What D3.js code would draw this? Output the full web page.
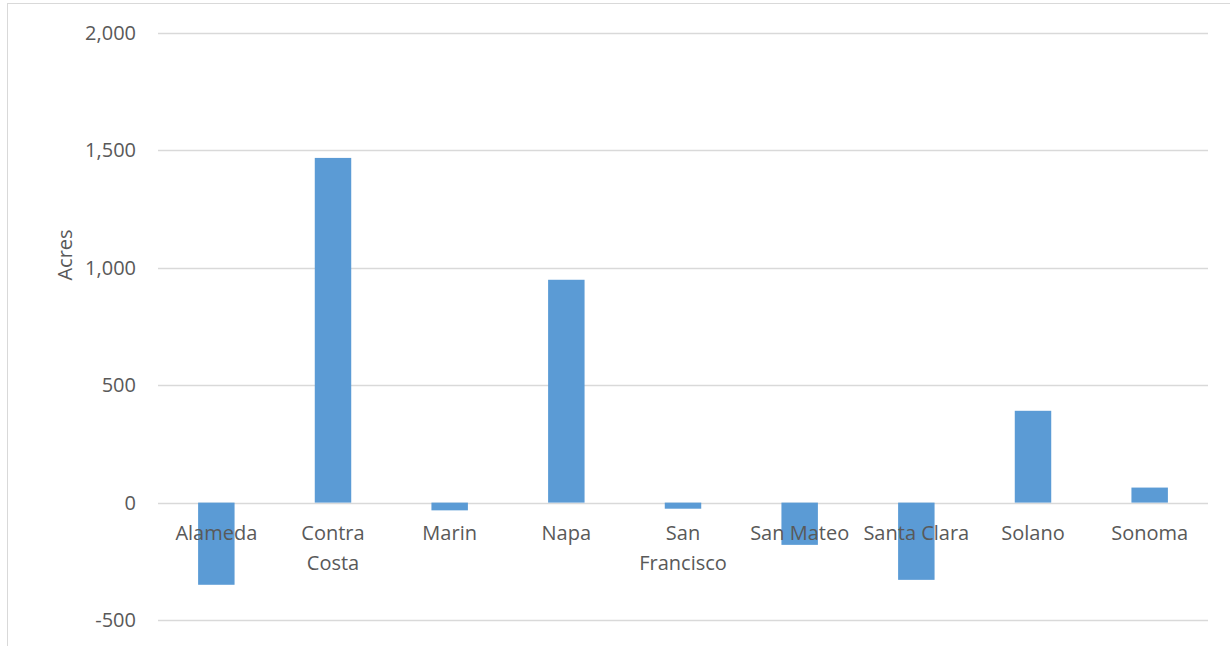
<!DOCTYPE html>
<html><head><meta charset="utf-8">
<script src="https://cdn.jsdelivr.net/npm/d3@7"></script>
<style>body{margin:0;background:#fff;}svg{display:block;}text{font-family:"Open Sans",sans-serif;fill:#595959;}</style>
</head><body><svg id="c" width="1230" height="646"></svg>
<script>
const categories = ["Alameda","Contra Costa","Marin","Napa","San Francisco","San Mateo","Santa Clara","Solano","Sonoma"];
const categoryLines = [["Alameda"],["Contra","Costa"],["Marin"],["Napa"],["San","Francisco"],["San Mateo"],["Santa Clara"],["Solano"],["Sonoma"]];
const values = [-350, 1468, -33, 949, -26, -180, -329, 391, 64];
const yTicks = [-500, 0, 500, 1000, 1500, 2000];
const yTitle = "Acres";

(function(){
const svg = d3.select("#c");
const pl = 158, pr = 1208, pt = 33, pb = 620;
const fs = "20px";
svg.append("rect").attr("x",7.5).attr("y",3.5).attr("width",1230).attr("height",660).attr("fill","none").attr("stroke","#d9d9d9");

const x = d3.scaleBand().domain(categories).range([pl,pr]).paddingInner(0.6875).paddingOuter(0.34375);
const y = d3.scaleLinear().domain([-500,2000]).range([pb,pt]);

const grid = svg.append("g");
yTicks.forEach(t=>{
  grid.append("line").attr("x1",pl).attr("x2",pr).attr("y1",Math.round(y(t))+0.5).attr("y2",Math.round(y(t))+0.5).attr("stroke","#d9d9d9").attr("stroke-width",1.5);
});
const fmt = d3.formatLocale({decimal:".",thousands:",",grouping:[3],currency:["$",""],minus:"-"}).format(",");
svg.append("g").selectAll("text").data(yTicks).join("text")
  .attr("x",136).attr("y",d=>y(d)).attr("dy","0.35em").attr("text-anchor","end")
  .style("font-size",fs).text(d=>fmt(d));

svg.append("g").selectAll("rect").data(values).join("rect")
  .attr("x",(d,i)=>x(categories[i])).attr("width",x.bandwidth())
  .attr("y",d=>y(Math.max(0,d))).attr("height",d=>Math.abs(y(d)-y(0)))
  .attr("fill","#5b9bd5");

const lab = svg.append("g");
categoryLines.forEach((lines,i)=>{
  const cx = x(categories[i]) + x.bandwidth()/2;
  const t = lab.append("text").attr("text-anchor","middle").style("font-size",fs);
  lines.forEach((l,j)=>t.append("tspan").attr("x",cx).attr("y",540+j*30).text(l));
});

svg.append("text").attr("transform","translate(72,255) rotate(-90)")
  .attr("text-anchor","middle").style("font-size",fs).text(yTitle);
})();
</script></body></html>
